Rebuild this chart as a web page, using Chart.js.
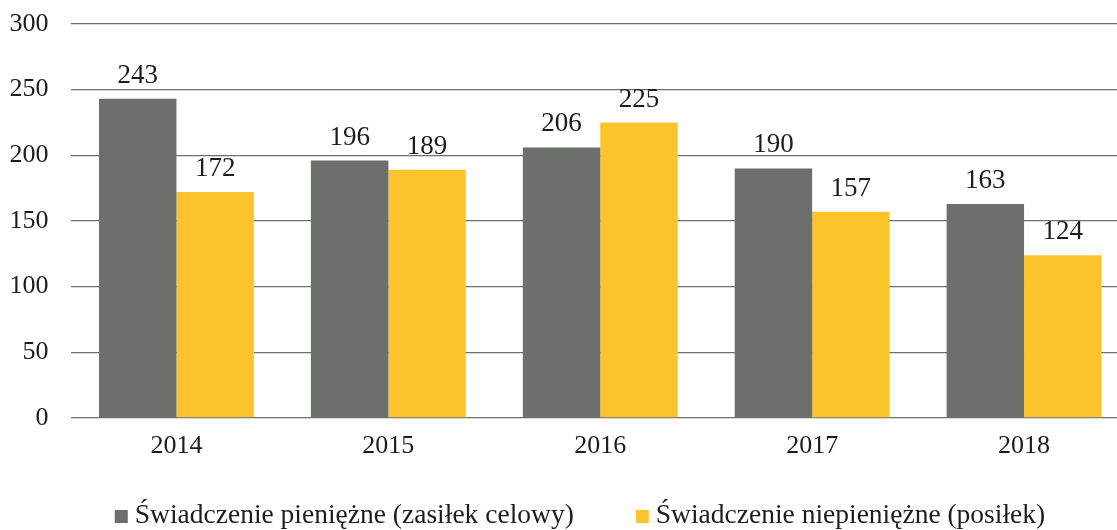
<!DOCTYPE html>
<html>
<head>
<meta charset="utf-8">
<script src="https://cdn.jsdelivr.net/npm/chart.js@4/dist/chart.umd.min.js"></script>
<style>
  html, body { margin: 0; padding: 0; background: #fff; overflow: hidden; }
  /* plot runs slightly past the right edge of the window */
  #wrap { width: 1130px; height: 530px; }
</style>
</head>
<body>
<div id="wrap"><canvas id="chart"></canvas></div>
<script>
const years = ['2014', '2015', '2016', '2017', '2018'];
const cashBenefit = [243, 196, 206, 190, 163];
const inKindBenefit = [172, 189, 225, 157, 124];
const yTicks = [0, 50, 100, 150, 200, 250, 300];

const FONT = "'Liberation Serif', 'Times New Roman', serif";
const TEXT = '#1c1c1c';

// writes each bar's value above it
const valueLabels = {
    id: 'valueLabels',
    afterDatasetsDraw(chart) {
        const ctx = chart.ctx;
        ctx.save();
        ctx.font = `27px ${FONT}`;
        ctx.fillStyle = TEXT;
        ctx.textAlign = 'center';
        ctx.textBaseline = 'alphabetic';
        chart.data.datasets.forEach((ds, i) => {
            chart.getDatasetMeta(i).data.forEach((bar, j) => {
                ctx.fillText(String(ds.data[j]), bar.x, bar.y - 16);
            });
        });
        ctx.restore();
    }
};

// legend row under the axis: small square, short gap, label
const bottomLegend = {
    id: 'bottomLegend',
    afterDraw(chart, args, opts) {
        const ctx = chart.ctx;
        const box = 13, gap = 7, spacing = 62;
        ctx.save();
        ctx.font = `${opts.size}px ${FONT}`;
        const items = chart.data.datasets.map(ds => ({
            text: ds.label,
            color: ds.backgroundColor,
            w: ctx.measureText(ds.label).width
        }));
        const total = items.reduce((s, it) => s + box + gap + it.w, 0) + spacing * (items.length - 1);
        let x = opts.centerX - total / 2;
        const y = chart.height - opts.bottom;
        ctx.textBaseline = 'alphabetic';
        ctx.textAlign = 'left';
        items.forEach(it => {
            ctx.fillStyle = it.color;
            ctx.fillRect(x, y - box, box, box);
            ctx.fillStyle = TEXT;
            ctx.fillText(it.text, x + box + gap, y);
            x += box + gap + it.w + spacing;
        });
        ctx.restore();
    }
};

new Chart(document.getElementById('chart').getContext('2d'), {
    type: 'bar',
    data: {
        labels: years,
        datasets: [
            {
                label: 'Świadczenie pieniężne (zasiłek celowy)',
                data: cashBenefit,
                backgroundColor: '#6d6f6c',
                categoryPercentage: 0.731,
                barPercentage: 1
            },
            {
                label: 'Świadczenie niepieniężne (posiłek)',
                data: inKindBenefit,
                backgroundColor: '#fcc42c',
                categoryPercentage: 0.731,
                barPercentage: 1
            }
        ]
    },
    options: {
        responsive: true,
        maintainAspectRatio: false,
        animation: false,
        layout: { padding: { left: 9, right: 0, top: 24, bottom: 76 } },
        plugins: {
            tooltip: { enabled: false },
            legend: { display: false },
            bottomLegend: { size: 27.5, centerX: 580, bottom: 7 }
        },
        scales: {
            x: {
                grid: { display: false },
                border: { display: false },
                ticks: {
                    font: { family: FONT, size: 26 },
                    color: TEXT,
                    padding: 5
                },
                afterFit(axis) {
                    axis.height = 36;
                    axis.paddingLeft = 0;
                    axis.paddingRight = 0;
                }
            },
            y: {
                min: 0,
                max: 300,
                afterBuildTicks(axis) {
                    axis.ticks = yTicks.map(v => ({ value: v }));
                },
                grid: { color: '#6e6e6e', lineWidth: 1.3, drawTicks: false },
                border: { display: false },
                ticks: {
                    font: { family: FONT, size: 26 },
                    color: TEXT,
                    padding: 22
                },
                afterFit(axis) {
                    axis.width = 61.5;
                    axis.paddingTop = 0;
                    axis.paddingBottom = 0;
                }
            }
        }
    },
    plugins: [valueLabels, bottomLegend]
});
</script>
</body>
</html>
